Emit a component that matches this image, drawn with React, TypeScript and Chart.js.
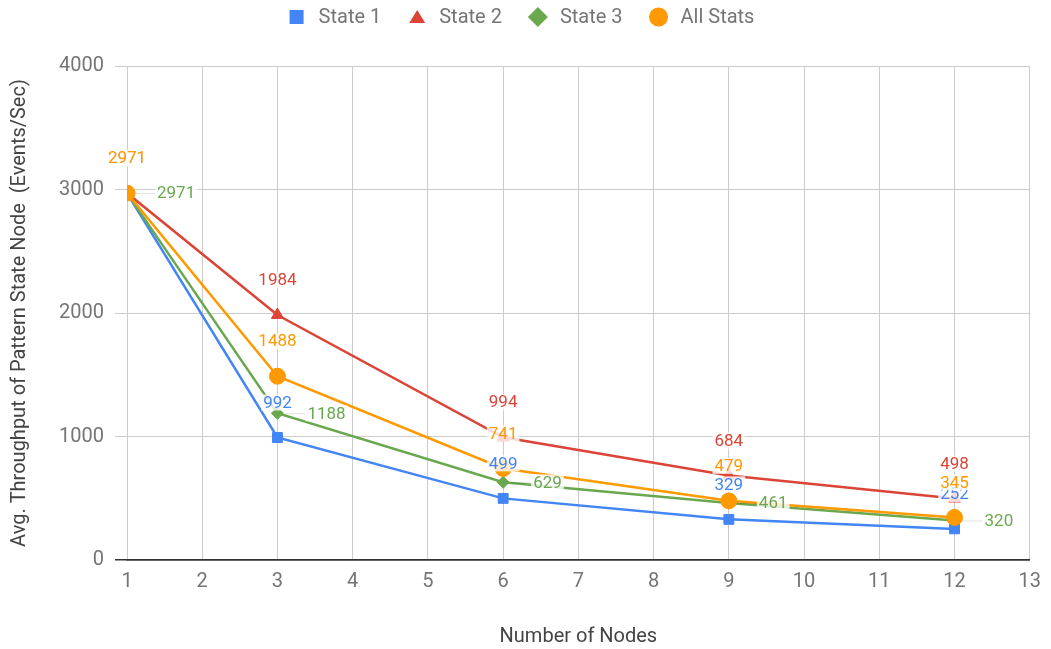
import React, { useEffect, useRef } from "react";
import { Chart, registerables } from "chart.js";

Chart.register(...registerables);

// ---- data ----
const nodes = [1, 3, 6, 9, 12];
const seriesNames = ["State 1", "State 2", "State 3", "All Stats"];
const state1 = [2971, 992, 499, 329, 252];
const state2 = [2971, 1984, 994, 684, 498];
const state3 = [2971, 1188, 629, 461, 320];
const allStats = [2971, 1488, 741, 479, 345];
const xTickMin = 1;
const xTickMax = 13;
const yTickMin = 0;
const yTickMax = 4000;
const yTickStep = 1000;

// ---- styles ----
const colors = ["#4285f4", "#db4437", "#6aa84f", "#ff9900"];
const pointStyles = ["rect", "triangle", "rectRot", "circle"];
const pointRadii = [7, 7, 6, 8];
const labelPlacement = ["above", "above", "right", "above"];
const drawOrder = [3, 2, 1, 0];
const FONT = "Roboto, 'Noto Sans', sans-serif";

const seriesValues = [state1, state2, state3, allStats];

function drawMarker(ctx: CanvasRenderingContext2D, style: string, cx: number, cy: number, color: string) {
  ctx.fillStyle = color;
  ctx.beginPath();
  if (style === "rect") {
    ctx.rect(cx - 7, cy - 7, 14, 14);
  } else if (style === "triangle") {
    ctx.moveTo(cx, cy - 7);
    ctx.lineTo(cx + 8, cy + 6);
    ctx.lineTo(cx - 8, cy + 6);
    ctx.closePath();
  } else if (style === "rectRot") {
    ctx.moveTo(cx, cy - 10);
    ctx.lineTo(cx + 10, cy);
    ctx.lineTo(cx, cy + 10);
    ctx.lineTo(cx - 10, cy);
    ctx.closePath();
  } else {
    ctx.arc(cx, cy, 9.5, 0, Math.PI * 2);
  }
  ctx.fill();
}

const legendPlugin = {
  id: "customLegend",
  afterDraw(chart: any) {
    const ctx: CanvasRenderingContext2D = chart.ctx;
    ctx.save();
    ctx.font = `20px ${FONT}`;
    const box = 14;
    const gapText = 15;
    const gapItem = 29;
    const widths = seriesNames.map((n) => ctx.measureText(n).width);
    const total = widths.reduce((a, w) => a + box + gapText + w, 0) + gapItem * (seriesNames.length - 1);
    let x = 522 - total / 2;
    const cy = 17;
    seriesNames.forEach((name, i) => {
      drawMarker(ctx, pointStyles[i], x + box / 2, cy, colors[i]);
      ctx.fillStyle = "#757575";
      ctx.textBaseline = "middle";
      ctx.textAlign = "left";
      ctx.fillText(name, x + box + gapText, cy + 1);
      x += box + gapText + widths[i] + gapItem;
    });
    ctx.restore();
  },
};

const dataLabelPlugin = {
  id: "dataLabels",
  afterDatasetsDraw(chart: any) {
    const ctx: CanvasRenderingContext2D = chart.ctx;
    ctx.save();
    ctx.font = `17px ${FONT}`;
    ctx.textBaseline = "middle";
    ctx.textAlign = "left";
    chart.data.datasets.forEach((ds: any, di: number) => {
      const meta = chart.getDatasetMeta(di);
      meta.data.forEach((pt: any, i: number) => {
        const text = String(ds.data[i].y);
        const w = ctx.measureText(text).width;
        let tx: number;
        let ty: number;
        if (labelPlacement[di] === "above") {
          tx = pt.x - w / 2;
          ty = pt.y - 35;
        } else {
          tx = pt.x + 30;
          ty = pt.y;
          ctx.strokeStyle = "rgba(0,0,0,0.12)";
          ctx.lineWidth = 1;
          ctx.beginPath();
          ctx.moveTo(pt.x + 8, ty + 0.5);
          ctx.lineTo(tx - 2, ty + 0.5);
          ctx.stroke();
        }
        ctx.fillStyle = "rgba(255,255,255,0.8)";
        ctx.fillRect(tx - 2, ty - 8, w + 4, 16);
        ctx.fillStyle = colors[di];
        ctx.fillText(text, tx, ty + 1);
      });
    });
    ctx.restore();
  },
};

export default function App() {
  const canvasRef = useRef<HTMLCanvasElement | null>(null);

  useEffect(() => {
    if (!canvasRef.current) return;
    const datasets = seriesNames.map((name, si) => ({
      label: name,
      data: nodes.map((n, i) => ({ x: n, y: seriesValues[si][i] })),
      borderColor: colors[si],
      backgroundColor: colors[si],
      pointBackgroundColor: colors[si],
      pointBorderColor: colors[si],
      pointBorderWidth: 1,
      pointStyle: pointStyles[si] as any,
      pointRadius: pointRadii[si],
      borderWidth: 2.5,
      tension: 0,
      order: drawOrder[si],
    }));

    const chart = new Chart(canvasRef.current, {
      type: "line",
      data: { datasets },
      options: {
        responsive: false,
        animation: false,
        devicePixelRatio: 1,
        layout: { padding: { left: 0, right: 19, top: 66, bottom: 0 } },
        plugins: {
          legend: { display: false },
          tooltip: { enabled: false },
        },
        scales: {
          x: {
            type: "linear",
            min: xTickMin,
            max: xTickMax,
            ticks: {
              stepSize: 1,
              color: "#757575",
              font: { family: FONT, size: 20 },
              padding: 10,
              callback: (v: any) => String(v),
            },
            grid: { color: "#cccccc", drawTicks: false },
            border: { color: "#333333", width: 1.5 },
            title: {
              display: true,
              text: "Number of Nodes",
              color: "#444444",
              font: { family: FONT, size: 20 },
              padding: { top: 1, bottom: 0 },
            },
            afterFit: (s: any) => {
              s.height = 89;
            },
          },
          y: {
            min: yTickMin,
            max: yTickMax,
            ticks: {
              stepSize: yTickStep,
              color: "#757575",
              font: { family: FONT, size: 20 },
              padding: 11,
              callback: (v: any) => String(v),
            },
            grid: {
              color: (c: any) => (c.tick && c.tick.value === 0 ? "#333333" : "#cccccc"),
              lineWidth: (c: any) => (c.tick && c.tick.value === 0 ? 1.5 : 1),
              tickLength: 12,
            },
            border: { display: false },
            title: {
              display: true,
              text: "Avg. Throughput of Pattern State Node  (Events/Sec)",
              color: "#444444",
              font: { family: FONT, size: 20 },
              padding: { top: 8, bottom: 0 },
            },
            afterFit: (s: any) => {
              s.width = 127;
            },
          },
        },
      },
      plugins: [dataLabelPlugin, legendPlugin],
    });
    return () => chart.destroy();
  }, []);

  return (
    <div style={{ position: "absolute", left: 0, top: 0, width: 1051, height: 649, background: "#fff" }}>
      <canvas ref={canvasRef} width={1051} height={649} />
    </div>
  );
}
